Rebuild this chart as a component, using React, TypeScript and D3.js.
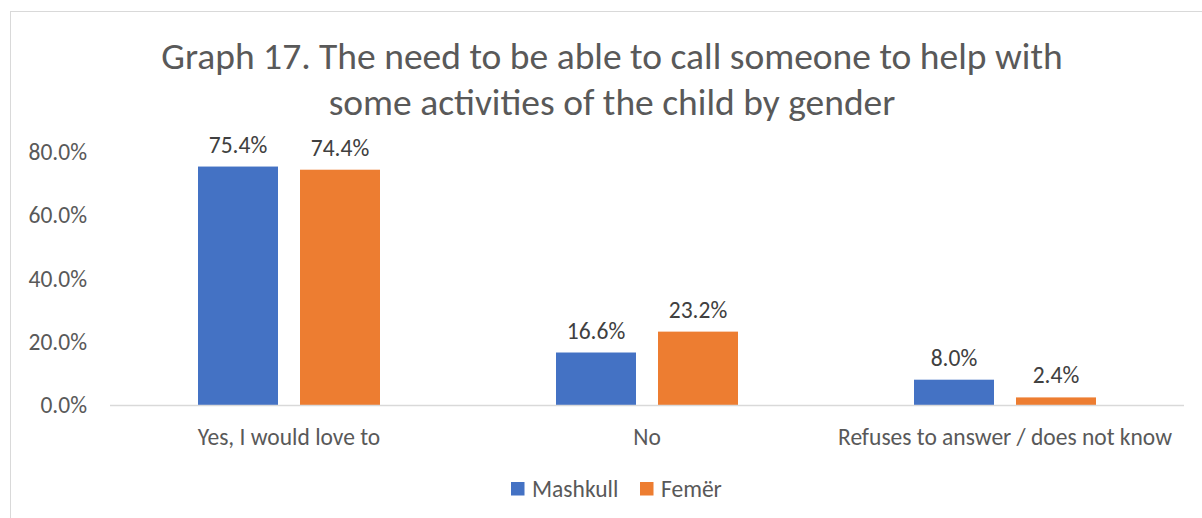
import React from "react";
import * as d3 from "d3";

const categories = ["Yes, I would love to", "No", "Refuses to answer / does not know"];
const seriesNames = ["Mashkull", "Femër"];
const mashkull = [75.4, 16.6, 8.0];
const femer = [74.4, 23.2, 2.4];
const yTicks = [0, 20, 40, 60, 80];
const titleLines = [
  "Graph 17. The need to be able to call someone to help with",
  "some activities of the child by gender",
];

const W = 1202;
const H = 518;
const colors = ["#4472C4", "#ED7D31"];
const textColor = "#595959";
const font = "Carlito, Calibri, 'Open Sans', sans-serif";

const App: React.FC = () => {
  const plotLeft = 110;
  const plotRight = 1184;
  const baseY = 405;

  const x0 = d3.scaleBand<string>().domain(categories).range([plotLeft, plotRight]);
  const y = d3.scaleLinear().domain([0, 80]).range([baseY, 152]);

  const barW = 80;
  const gap = 22;
  const values = [mashkull, femer];

  return (
    <svg
      width={W}
      height={H}
      style={{ position: "absolute", left: 0, top: 0, background: "#fff" }}
      fontFamily={font}
    >
      <rect x={10.5} y={11.5} width={W} height={H} fill="#fff" stroke="#D9D9D9" strokeWidth={1} />

      {titleLines.map((t, i) => (
        <text
          key={i}
          x={612}
          y={69 + i * 46}
          textAnchor="middle"
          fontSize={37.5}
          fill={textColor}
        >
          {t}
        </text>
      ))}

      {yTicks.map((t) => (
        <text key={t} x={87} y={y(t)} dy="0.35em" textAnchor="end" fontSize={23.5} fill={textColor}>
          {t.toFixed(1)}%
        </text>
      ))}

      {categories.map((c, ci) => {
        const cx = (x0(c) as number) + x0.bandwidth() / 2;
        return (
          <g key={c}>
            {values.map((vals, si) => {
              const bx = cx - gap / 2 - barW + si * (barW + gap);
              const v = vals[ci];
              return (
                <g key={si}>
                  <rect x={bx} y={y(v)} width={barW} height={baseY - y(v)} fill={colors[si]} />
                  <text
                    x={bx + barW / 2}
                    y={y(v) - 14}
                    textAnchor="middle"
                    fontSize={23.5}
                    fill="#404040"
                  >
                    {v.toFixed(1)}%
                  </text>
                </g>
              );
            })}
            <text x={cx} y={445} textAnchor="middle" fontSize={23.5} fill={textColor}>
              {c}
            </text>
          </g>
        );
      })}

      <line x1={plotLeft} x2={plotRight} y1={baseY + 0.5} y2={baseY + 0.5} stroke="#D9D9D9" strokeWidth={1.5} />

      {seriesNames.map((s, i) => {
        const lx = i === 0 ? 511 : 640;
        return (
          <g key={s}>
            <rect x={lx} y={482} width={13.5} height={13.5} fill={colors[i]} />
            <text x={lx + 21} y={497} fontSize={23.5} fill={textColor}>
              {s}
            </text>
          </g>
        );
      })}
    </svg>
  );
};

export default App;
